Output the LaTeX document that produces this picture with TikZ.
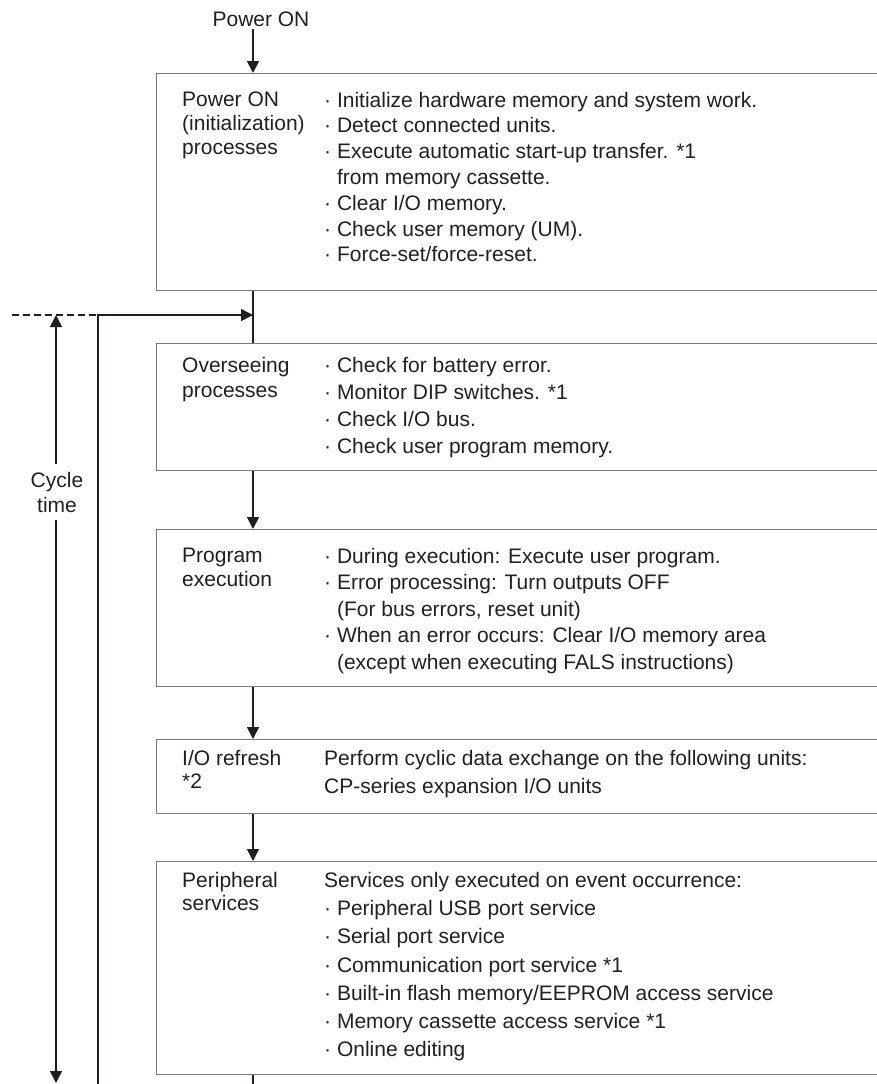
\documentclass[tikz,border=0pt]{standalone}
\usepackage{fontspec}
\setmainfont{Liberation Sans}
\usetikzlibrary{arrows.meta}
\definecolor{cframe}{HTML}{7A7A7A}
\definecolor{cink}{HTML}{231F20}
\tikzset{>={Triangle[length=12pt,width=12pt]},
  flow/.style={cink,line width=1.6pt},
  procbox/.style={draw=cframe,line width=1.3pt,anchor=north west,minimum width=740pt,inner sep=0pt},
  lbl/.style={anchor=north west,align=left,inner sep=0pt,text=cink,font=\fontsize{21}{24}\selectfont},
  items/.style={lbl,font=\fontsize{21}{#1}\selectfont}}
\newcommand{\dotitem}{\hphantom{·\ }}

\begin{document}
\begin{tikzpicture}[x=1pt,y=-1pt]
\useasboundingbox (0,0) rectangle (876,1084);

% ===== frames of the five stages =====
\node[procbox,minimum height=217pt] (init) at (156,73) {};
\node[procbox,minimum height=127pt] (over) at (156,343) {};
\node[procbox,minimum height=157pt] (prog) at (156,529) {};
\node[procbox,minimum height=74pt] (iorf) at (156,739) {};
\node[procbox,minimum height=213pt] (perv) at (156,861) {};

% ===== stage texts =====
\node[lbl] (initL) at (182,91.6) {Power ON\\(initialization)\\processes};
\node[items=25.8] (initR) at (324,91.6) {· Initialize hardware memory and system work.\\· Detect connected units.\\· Execute automatic start-up transfer. *1\\\dotitem from memory cassette.\\· Clear I/O memory.\\· Check user memory (UM).\\· Force-set/force-reset.};
\node[items=25.5] (overL) at (182,356.7) {Overseeing\\processes};
\node[items=27.2] (overR) at (324,356.7) {· Check for battery error.\\· Monitor DIP switches. *1\\· Check I/O bus.\\· Check user program memory.};
\node[lbl] (progL) at (182,548) {Program\\execution};
\node[items=26.5] (progR) at (324,548) {· During execution: Execute user program.\\· Error processing: Turn outputs OFF\\\dotitem (For bus errors, reset unit)\\· When an error occurs: Clear I/O memory area\\\dotitem (except when executing FALS instructions)};
\node[items=23] (iorfL) at (182,749.7) {I/O refresh\\*2};
\node[items=28] (iorfR) at (324,749.7) {Perform cyclic data exchange on the following units:\\CP-series expansion I/O units};
\node[items=23.5] (pervL) at (182,871.7) {Peripheral\\services};
\node[items=28.3] (pervR) at (324,871.7) {Services only executed on event occurrence:\\· Peripheral USB port service\\· Serial port service\\· Communication port service *1\\· Built-in flash memory/EEPROM access service\\· Memory cassette access service *1\\· Online editing};

% ===== main flow =====
\node[lbl,anchor=base] (pwr) at (261,26) {Power ON};
\coordinate (spine) at (253,0);
\coordinate (join) at (253,315);
\coordinate (send) at (253,1084);
\draw[flow,->,shorten <=3pt] (pwr.south -| spine) -- (init.north -| spine);
\draw[flow] (init.south -| spine) -- (over.north -| spine);
\draw[flow,->] (over.south -| spine) -- (prog.north -| spine);
\draw[flow,->] (prog.south -| spine) -- (iorf.north -| spine);
\draw[flow,->] (iorf.south -| spine) -- (perv.north -| spine);
\draw[flow] (perv.south -| spine) -- (send);

% ===== return line and cycle time =====
\coordinate (fbk) at (98,315);
\coordinate (fbot) at (98,1084);
\coordinate (dash0) at (12,315);
\draw[flow,->] (fbot) -- (fbk) -- (join);
\draw[flow,dash pattern=on 7pt off 4pt] (dash0) -- (fbk);
\node[lbl,anchor=center,align=center,inner xsep=0pt,inner ysep=8pt,font=\fontsize{21}{25}\selectfont] (cyc) at (57,492) {Cycle\\time};
\coordinate (ctop) at (56,315);
\coordinate (cbot) at (56,1083);
\draw[flow,->] (cyc.north -| ctop) -- (ctop);
\draw[flow,->] (cyc.south -| cbot) -- (cbot);

\end{tikzpicture}
\end{document}
